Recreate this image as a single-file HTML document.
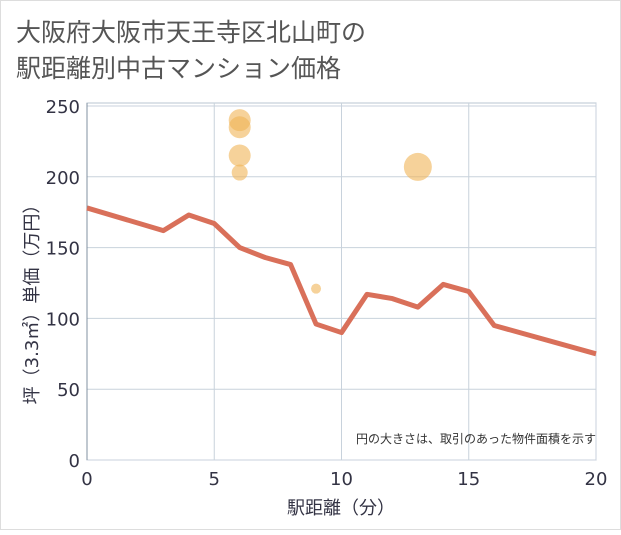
<!DOCTYPE html>
<html><head><meta charset="utf-8"><style>
body{margin:0;background:#fff;}
svg text{font-family:"DejaVu Sans","Noto Sans CJK JP",sans-serif;}
</style></head><body>
<svg id="c" width="621" height="530" xmlns="http://www.w3.org/2000/svg">
<rect x="0.5" y="0.5" width="620" height="529" fill="#fff" stroke="#ddd"/>
<text x="16" y="41" font-size="25" fill="#555">大阪府大阪市天王寺区北山町の</text>
<text x="16" y="77" font-size="25" fill="#555">駅距離別中古マンション価格</text>
<g id="grid"></g>
<g id="axes"></g>
<g id="marks"></g>
<text x="596" y="443" font-size="12" fill="#333" text-anchor="end">円の大きさは、取引のあった物件面積を示す</text>
<text x="341" y="514" font-size="18" fill="#334" text-anchor="middle">駅距離（分）</text>
<text transform="translate(38,300) rotate(-90)" font-size="18" fill="#334" text-anchor="middle">坪（3.3㎡）単価（万円）</text>
</svg>
<script>
const xTicks=[0,5,10,15,20];
const yTicks=[0,50,100,150,200,250];
const lineX=[0,3,4,5,6,7,8,9,10,11,12,13,14,15,16,20];
const lineY=[178,162,173,167,150,143,138,96,90,117,114,108,124,119,95,75];
const bubbleX=[6,6,6,6,9,13];
const bubbleY=[240,235,215,203,121,207];
const bubbleR=[11,11,11,8,5,14];
const NS="http://www.w3.org/2000/svg";
const X0=87,X1=596,Y0=460,Y1=106;
const sx=v=>X0+(X1-X0)*v/20;
const sy=v=>Y0-(Y0-Y1)*v/250;
function mk(t,a,p){const e=document.createElementNS(NS,t);for(const k in a)e.setAttribute(k,a[k]);p.appendChild(e);return e;}
const grid=document.getElementById('grid'),axes=document.getElementById('axes'),marks=document.getElementById('marks');
mk('rect',{x:X0,y:103,width:X1-X0,height:Y0-103,fill:'#fff',stroke:'#b8c4d0'},grid);
xTicks.forEach(v=>{
 const l=mk('line',{x1:sx(v),x2:sx(v),y1:103,y2:Y0,stroke:'#c8d2dc'},grid);
 
 
 const t=mk('text',{x:sx(v),y:485,'font-size':18,fill:'#334','text-anchor':'middle'},axes);
 t.textContent=v;
 
 
});
yTicks.forEach(v=>{
 const l=mk('line',{x1:X0,x2:X1,y1:sy(v),y2:sy(v),stroke:'#c8d2dc'},grid);
 
 
 const t=mk('text',{x:80,y:sy(v)+7,'font-size':18,fill:'#334','text-anchor':'end'},axes);
 t.textContent=v;
 
 
});
const ax=mk('line',{x1:X0,x2:X0,y1:103,y2:Y0,stroke:'#8090a0'},axes);


const path=mk('polyline',{points:lineX.map((x,i)=>sx(x)+','+sy(lineY[i])).join(' '),fill:'none',stroke:'#d9705a','stroke-width':5,'stroke-linejoin':'round'},marks);


bubbleX.forEach((x,i)=>{
 const c=mk('circle',{cx:sx(x),cy:sy(bubbleY[i]),r:bubbleR[i],fill:'#f0b456','fill-opacity':0.6},marks);
 
 
});
</script>
</body></html>
